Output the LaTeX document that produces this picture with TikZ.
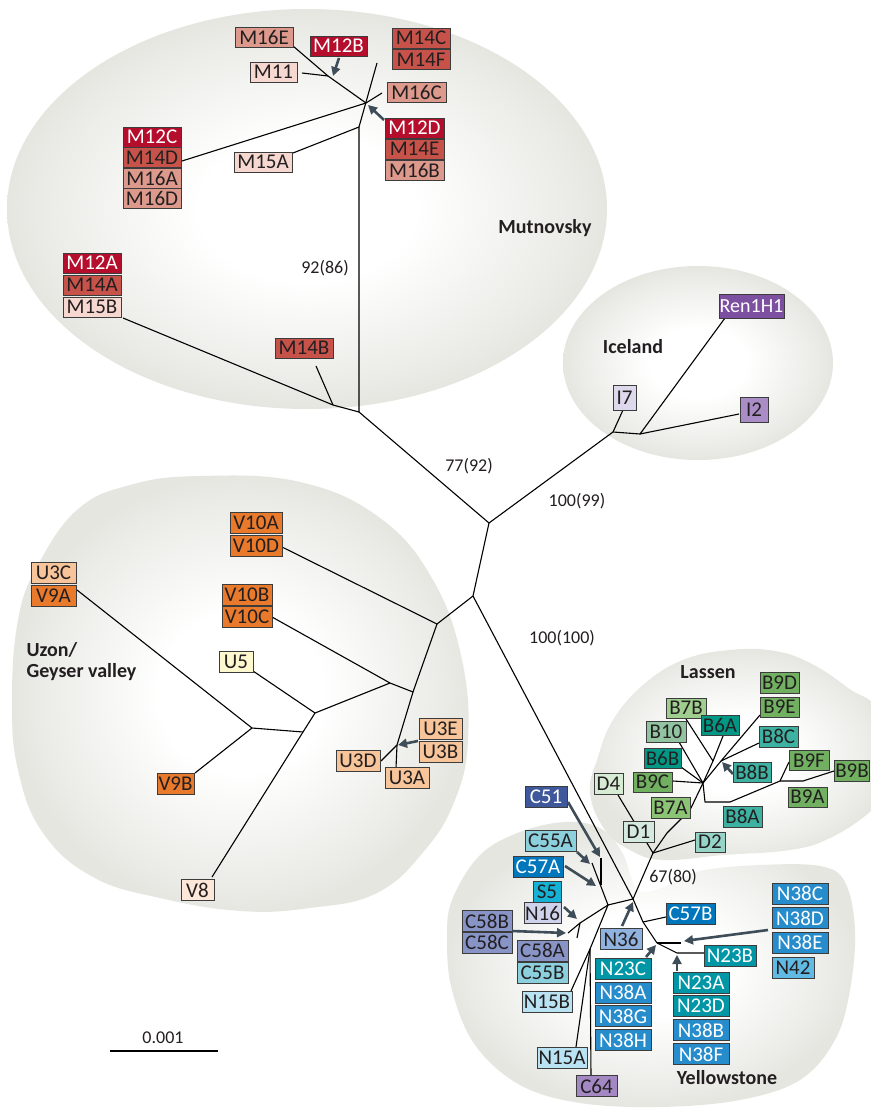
\documentclass[tikz,border=0pt]{standalone}
\usepackage{fontspec}
\setmainfont{Carlito}
\usetikzlibrary{arrows.meta}
\definecolor{txt}{RGB}{35,31,32}
\definecolor{boxline}{RGB}{60,60,60}
\definecolor{arrcol}{RGB}{62,77,88}
\definecolor{bgray}{RGB}{230,230,225}
\definecolor{fm12}{RGB}{181,14,44}
\definecolor{fm14}{RGB}{198,82,74}
\definecolor{fm16}{RGB}{221,153,139}
\definecolor{fm15}{RGB}{247,216,208}
\definecolor{fren}{RGB}{124,79,160}
\definecolor{fi2}{RGB}{170,141,198}
\definecolor{fi7}{RGB}{221,216,235}
\definecolor{fvo}{RGB}{233,122,44}
\definecolor{fup}{RGB}{248,196,153}
\definecolor{fu5}{RGB}{254,248,206}
\definecolor{fv8}{RGB}{252,231,216}
\definecolor{fb9}{RGB}{112,176,96}
\definecolor{fb7b}{RGB}{160,206,142}
\definecolor{fb10}{RGB}{146,196,162}
\definecolor{fb6}{RGB}{0,152,132}
\definecolor{fb8}{RGB}{62,178,162}
\definecolor{fb7a}{RGB}{140,196,118}
\definecolor{fd4}{RGB}{214,236,212}
\definecolor{fd1}{RGB}{213,234,222}
\definecolor{fd2}{RGB}{150,212,200}
\definecolor{fc51}{RGB}{62,88,155}
\definecolor{fc55}{RGB}{140,208,222}
\definecolor{fc57}{RGB}{0,118,188}
\definecolor{fs5}{RGB}{22,178,214}
\definecolor{fn16}{RGB}{206,210,234}
\definecolor{fc58}{RGB}{136,148,198}
\definecolor{fn15}{RGB}{185,226,242}
\definecolor{fc64}{RGB}{163,136,196}
\definecolor{fn36}{RGB}{143,178,222}
\definecolor{fn23}{RGB}{0,150,166}
\definecolor{fn38}{RGB}{38,140,204}
\definecolor{fn42}{RGB}{96,186,228}
\pgfdeclareradialshading{blobshade}{\pgfpoint{0bp}{0bp}}{color(0bp)=(white); color(9bp)=(white); color(25bp)=(bgray); color(50bp)=(bgray)}
\begin{document}
\begin{tikzpicture}[x=1pt,y=-1pt,
  bx/.style={draw=boxline, line width=0.9pt, inner sep=0pt, minimum height=20pt, font=\fontsize{21pt}{21pt}\selectfont, text=txt},
  bw/.style={minimum width=#1pt},
  bh/.style={minimum height=#1pt},
  br/.style={draw=black, line width=1.1pt, line join=round},
  arr/.style={draw=arrcol, line width=2.6pt, -{Triangle[length=9pt,width=9pt]}},
  region/.style={font=\bfseries\fontsize{20pt}{21pt}\selectfont, text=txt},
  boot/.style={font=\fontsize{18pt}{20pt}\selectfont, text=txt},
  blob/.style={shading=blobshade},
  sm12/.style={bx, fill=fm12, text=white},
  sm14/.style={bx, fill=fm14},
  sm16/.style={bx, fill=fm16},
  sm15/.style={bx, fill=fm15},
  sren/.style={bx, fill=fren, text=white, font=\fontsize{20pt}{20pt}\selectfont},
  si2/.style={bx, fill=fi2},
  si7/.style={bx, fill=fi7},
  svo/.style={bx, fill=fvo, bh=21},
  sup/.style={bx, fill=fup, bh=21},
  su5/.style={bx, fill=fu5, bh=21},
  sv8/.style={bx, fill=fv8, bh=21},
  sb9/.style={bx, fill=fb9},
  sb7b/.style={bx, fill=fb7b},
  sb10/.style={bx, fill=fb10},
  sb6/.style={bx, fill=fb6},
  sb8/.style={bx, fill=fb8},
  sb7a/.style={bx, fill=fb7a},
  sd4/.style={bx, fill=fd4},
  sd1/.style={bx, fill=fd1},
  sd2/.style={bx, fill=fd2},
  sc51/.style={bx, fill=fc51, text=white, bh=21},
  sc55/.style={bx, fill=fc55, bh=21},
  sc57/.style={bx, fill=fc57, text=white, bh=21},
  ss5/.style={bx, fill=fs5, bh=21},
  sn16/.style={bx, fill=fn16, bh=21},
  sc58/.style={bx, fill=fc58, bh=21},
  sn15/.style={bx, fill=fn15, bh=21},
  sc64/.style={bx, fill=fc64, bh=21},
  sn36/.style={bx, fill=fn36, bh=21},
  sn23/.style={bx, fill=fn23, text=white, bh=21},
  sn38/.style={bx, fill=fn38, text=white, bh=21},
  sn42/.style={bx, fill=fn42, bh=21}
]
\useasboundingbox (0,0) rectangle (870,1108);
\fill[white] (0,0) rectangle (870,1108);

% ---------- background regions ----------
\shade[blob] (307,209) ellipse [x radius=300pt, y radius=200pt];
\shade[blob] (698,363) ellipse [x radius=135pt, y radius=97pt];
\shade[blob] plot[smooth cycle, tension=0.7] coordinates {(200,476) (300,482) (380,518) (433,580) (462,660) (468,740) (455,800) (425,850) (377,893) (310,908) (240,911) (160,898) (93,877) (43,833) (18,770) (12,700) (18,620) (37,567) (77,510) (130,485)};
\shade[blob] plot[smooth cycle, tension=0.7] coordinates {(590,793) (598,757) (613,720) (643,685) (683,660) (730,650) (775,651) (812,664) (848,688) (880,715) (888,790) (870,812) (830,838) (790,850) (723,855) (663,860) (630,850) (605,830)};
\shade[blob] plot[smooth cycle, tension=0.6] coordinates {(452,900) (480,855) (520,832) (565,822) (600,828) (622,852) (638,890) (667,886) (700,871) (760,865) (820,866) (845,882) (855,930) (850,990) (835,1040) (800,1080) (740,1100) (660,1107) (580,1103) (520,1085) (475,1045) (452,990) (447,940)};

% ---------- junction coordinates ----------
% Mutnovsky
\coordinate (mA) at (359,412);
\coordinate (mB) at (333,405);
\coordinate (mC) at (359,127);
\coordinate (mH) at (366,103);
\coordinate (mT) at (377,63);
\coordinate (mJ) at (328,76);
\coordinate (eM15B) at (123,318);
\coordinate (eM14B) at (316,366);
\coordinate (eM15A) at (293,153);
\coordinate (eM12C) at (182,161);
\coordinate (eM16E) at (293,46);
\coordinate (eM11) at (302,73);
\coordinate (eM16C) at (382,93);
% centre
\coordinate (cA) at (489,523);
\coordinate (cB) at (473,596);
% Iceland
\coordinate (iA) at (613,432);
\coordinate (iB) at (640,434);
\coordinate (eI7) at (623,410);
\coordinate (eRen) at (725,318);
\coordinate (eI2) at (739,414);
% Uzon
\coordinate (uA) at (437,624);
\coordinate (uB) at (413,692);
\coordinate (uC) at (390,683);
\coordinate (uD) at (397,745);
\coordinate (uE) at (315,713);
\coordinate (uF) at (303,732);
\coordinate (uG) at (252,728);
\coordinate (eV10D) at (282,547);
\coordinate (eV10C) at (272,617);
\coordinate (eU3A) at (396,768);
\coordinate (eU3D) at (381,761);
\coordinate (eU5) at (253,671);
\coordinate (eV8) at (212,877);
\coordinate (eV9A) at (77,590);
\coordinate (eV9B) at (195,773);
% Lassen
\coordinate (dN) at (653,853);
\coordinate (lA) at (667,833);
\coordinate (lB) at (690,810);
\coordinate (lL) at (703,783);
\coordinate (lC) at (713,761);
\coordinate (lD) at (721,761);
\coordinate (lE) at (705,802);
\coordinate (lF) at (730,802);
\coordinate (lG) at (780,781);
\coordinate (lH) at (803,781);
\coordinate (eD4) at (618,795);
\coordinate (eD2) at (695,840);
\coordinate (eB9E) at (760,715);
\coordinate (eB6A) at (723,736);
\coordinate (eB7B) at (686,719);
\coordinate (eB8C) at (759,743);
\coordinate (eB10) at (679,742);
\coordinate (eB6B) at (681,767);
\coordinate (eB9C) at (673,781);
\coordinate (eB9F) at (789,762);
\coordinate (eB9B) at (834,771);
% Yellowstone
\coordinate (yY) at (633,899);
\coordinate (yC) at (643,922);
\coordinate (yZ) at (657,943);
\coordinate (yZr) at (681,943);
\coordinate (yN) at (677,953);
\coordinate (eN23B) at (704,953);
\coordinate (eC57B) at (666,917);
\coordinate (yL) at (608,905);
\coordinate (yT) at (592,863);
\coordinate (yV1) at (601,885);
\coordinate (yV2) at (601,858);
\coordinate (yM) at (580,923);
\coordinate (yMe) at (568,933);
\coordinate (yMs) at (577,938);
\coordinate (yW) at (590,949);
\coordinate (eN15B) at (571,991);
\coordinate (eN15A) at (576,1047);
\coordinate (eC64) at (591,1076);

% ---------- branches ----------
\draw[br] (eM15B) -- (mB) -- (mA);
\draw[br] (eM14B) -- (mB);
\draw[br] (cA) -- (mA) -- (mC) -- (mT);
\draw[br] (eM15A) -- (mC);
\draw[br] (eM12C) -- (mH) -- (eM16C);
\draw[br] (eM16E) -- (mJ) -- (mH);
\draw[br] (eM11) -- (mJ);

\draw[br] (cA) -- (iA) -- (iB) -- (eRen);
\draw[br] (iA) -- (eI7);
\draw[br] (iB) -- (eI2);
\draw[br] (cA) -- (cB) -- (uA);
\draw[br] (cB) -- (yY) -- (yC) -- (yZ);

\draw[br] (eV10D) -- (uA) -- (uB) -- (uD) -- (eU3A);
\draw[br] (eV10C) -- (uC) -- (uB);
\draw[br] (eU3D) -- (uD);
\draw[br] (uC) -- (uE) -- (uF) -- (eV8);
\draw[br] (eU5) -- (uE);
\draw[br] (uF) -- (uG) -- (eV9A);
\draw[br] (uG) -- (eV9B);

\draw[br] (eD4) -- (dN) -- (eD2);
\draw[br] (yY) -- (dN) -- (lA) -- (lB) -- (lL) -- (lD) -- (eB9E);
\draw[br] (lL) -- (lC) -- (eB6A);
\draw[br] (lC) -- (eB7B);
\draw[br] (lD) -- (eB8C);
\draw[br] (lL) -- (eB10);
\draw[br] (lL) -- (eB6B);
\draw[br] (lL) -- (eB9C);
\draw[br] (lL) -- (lE) -- (lF) -- (lG) -- (eB9F);
\draw[br] (lG) -- (lH) -- (eB9B);

\draw[br] (yC) -- (eC57B);
\draw[br] (yZ) -- (yZr);
\draw[br] (yZ) -- (yN) -- (eN23B);
\draw[br] (yY) -- (yL) -- (yT);
\draw[br] (yV1) -- (yV2);
\draw[br] (yL) -- (yM) -- (yMe);
\draw[br] (yM) -- (yMs);
\draw[br] (yL) -- (yW) -- (eN15B);
\draw[br] (yW) -- (eN15A);
\draw[br] (yW) -- (eC64);

% ---------- Mutnovsky boxes ----------
\node[sm16, bw=58] (M16E) at (264,37) {M16E};
\node[sm12, bw=57] (M12B) at (338.5,46) {M12B};
\node[sm15, bw=47] (M11) at (273.5,72) {M11};
\node[sm14, bw=58] (M14C) at (421,38) {M14C};
\node[sm14, bw=58] (M14F) at (421,59.5) {M14F};
\node[sm16, bw=59] (M16C) at (416.5,92) {M16C};
\node[sm12, bw=59] (M12D) at (414.5,128) {M12D};
\node[sm14, bw=59] (M14E) at (414.5,149) {M14E};
\node[sm16, bw=59] (M16B) at (414.5,170) {M16B};
\node[sm12, bw=58] (M12C) at (152,137) {M12C};
\node[sm14, bw=58] (M14D) at (152,157.5) {M14D};
\node[sm16, bw=58] (M16A) at (152,178) {M16A};
\node[sm16, bw=58] (M16D) at (152,198.5) {M16D};
\node[sm15, bw=58] (M15A) at (263,162) {M15A};
\node[sm12, bw=58] (M12A) at (92,263) {M12A};
\node[sm14, bw=58] (M14A) at (92,285) {M14A};
\node[sm15, bw=58] (M15B) at (92,307) {M15B};
\node[sm14, bw=58] (M14B) at (304,348) {M14B};

% ---------- Iceland boxes ----------
\node[sren, bw=65, bh=24] (Ren1H1) at (751.5,306) {Ren1H1};
\node[si7, bw=23, bh=25] (I7) at (624.5,397.5) {I7};
\node[si2, bw=28, bh=25] (I2) at (754,409.5) {I2};

% ---------- Uzon boxes ----------
\node[svo, bw=52] (V10A) at (256,523) {V10A};
\node[svo, bw=52] (V10D) at (256,545.5) {V10D};
\node[svo, bw=50] (V10B) at (247,594.5) {V10B};
\node[svo, bw=50] (V10C) at (247,617) {V10C};
\node[sup, bw=45] (U3C) at (53.5,573) {U3C};
\node[svo, bw=45] (V9A) at (53.5,595.5) {V9A};
\node[su5, bw=34] (U5) at (236,661.5) {U5};
\node[sup, bw=43] (U3E) at (440.5,729) {U3E};
\node[sup, bw=43] (U3B) at (440.5,752) {U3B};
\node[sup, bw=44] (U3D) at (358,760.5) {U3D};
\node[sup, bw=44] (U3A) at (407,778) {U3A};
\node[svo, bw=37] (V9B) at (175.5,783.5) {V9B};
\node[sv8, bw=33] (V8) at (197.5,890) {V8};

% ---------- Lassen boxes ----------
\node[sb9, bw=39, bh=21] (B9D) at (779.5,682.5) {B9D};
\node[sb9, bw=39] (B9E) at (779.5,707) {B9E};
\node[sb7b, bw=40] (B7B) at (686,708) {B7B};
\node[sb6, bw=38] (B6A) at (720,725.5) {B6A};
\node[sb10, bw=40, bh=21] (B10) at (666,731.5) {B10};
\node[sb8, bw=39, bh=21] (B8C) at (778.5,736.5) {B8C};
\node[sb6, bw=37] (B6B) at (662.5,758.5) {B6B};
\node[sb9, bw=40] (B9F) at (809,760.5) {B9F};
\node[sb9, bw=35, bh=21] (B9B) at (852,770.5) {B9B};
\node[sb8, bw=38] (B8B) at (752,772) {B8B};
\node[sb9, bw=39] (B9C) at (652.5,782) {B9C};
\node[sd4, bw=29, bh=21] (D4) at (608.5,783.5) {D4};
\node[sb9, bw=39] (B9A) at (807.5,797) {B9A};
\node[sb7a, bw=39, bh=21] (B7A) at (670.5,807.5) {B7A};
\node[sb8, bw=39, bh=21] (B8A) at (742.5,816.5) {B8A};
\node[sd1, bw=31, bh=21] (D1) at (638.5,831.5) {D1};
\node[sd2, bw=30] (D2) at (710,842) {D2};

% ---------- Yellowstone boxes ----------
\node[sc51, bw=42] (C51) at (546,797) {C51};
\node[sc55, bw=51] (C55A) at (550.5,841) {C55A};
\node[sc57, bw=50] (C57A) at (538,866.5) {C57A};
\node[ss5, bw=28] (S5) at (547,891.5) {S5};
\node[sn16, bw=37] (N16) at (542.5,913) {N16};
\node[sc58, bw=50] (C58B) at (487,921) {C58B};
\node[sc58, bw=50] (C58C) at (487,942.5) {C58C};
\node[sc58, bw=51] (C58A) at (542.5,950.5) {C58A};
\node[sc55, bw=51] (C55B) at (542.5,972.5) {C55B};
\node[sn15, bw=50] (N15B) at (547,1001.5) {N15B};
\node[sn15, bw=50] (N15A) at (562,1057.5) {N15A};
\node[sc64, bw=41] (C64) at (596.5,1086) {C64};
\node[sn36, bw=42] (N36) at (621,939) {N36};
\node[sc57, bw=49] (C57B) at (690.5,914) {C57B};
\node[sn23, bw=52] (N23B) at (730,956) {N23B};
\node[sn23, bw=56] (N23C) at (623,968.5) {N23C};
\node[sn38, bw=56] (N38A) at (623,992.5) {N38A};
\node[sn38, bw=56] (N38G) at (623,1016) {N38G};
\node[sn38, bw=56] (N38H) at (623,1040) {N38H};
\node[sn23, bw=56] (N23A) at (701,982.5) {N23A};
\node[sn23, bw=56] (N23D) at (701,1006) {N23D};
\node[sn38, bw=56] (N38B) at (701,1030) {N38B};
\node[sn38, bw=56] (N38F) at (701,1054) {N38F};
\node[sn38, bw=56] (N38C) at (800,893.5) {N38C};
\node[sn38, bw=56] (N38D) at (800,918) {N38D};
\node[sn38, bw=56] (N38E) at (800,942.5) {N38E};
\node[sn42, bw=42] (N42) at (793,967.5) {N42};

% ---------- arrows ----------
\coordinate (aM12Bs) at (339,58);  \coordinate (aM12Be) at (333,76);
\coordinate (aM12Ds) at (384,120); \coordinate (aM12De) at (368,105);
\coordinate (aU3s) at (418,741);   \coordinate (aU3e) at (398,745);
\coordinate (aB8Bs) at (733,774);  \coordinate (aB8Be) at (722,762);
\coordinate (aC51s) at (568,802);  \coordinate (aC51e) at (600,857);
\coordinate (aC55s) at (577,852);  \coordinate (aC55e) at (590,864);
\coordinate (aC57s) at (565,866);  \coordinate (aC57e) at (596,886);
\coordinate (aN16s) at (564,907);  \coordinate (aN16e) at (577,919);
\coordinate (aC58s) at (512,931);  \coordinate (aC58e) at (566,933);
\coordinate (aN36s) at (622,926);  \coordinate (aN36e) at (633,902);
\coordinate (aN23Cs) at (646,957); \coordinate (aN23Ce) at (656,945);
\coordinate (aN23As) at (677,971); \coordinate (aN23Ae) at (677,955);
\coordinate (aN38s) at (768,930);  \coordinate (aN38e) at (684,941);
\draw[arr] (aM12Bs) -- (aM12Be);
\draw[arr] (aM12Ds) -- (aM12De);
\draw[arr] (aU3s) -- (aU3e);
\draw[arr] (aB8Bs) -- (aB8Be);
\draw[arr] (aC51s) -- (aC51e);
\draw[arr] (aC55s) -- (aC55e);
\draw[arr] (aC57s) -- (aC57e);
\draw[arr] (aN16s) -- (aN16e);
\draw[arr] (aC58s) -- (aC58e);
\draw[arr] (aN36s) -- (aN36e);
\draw[arr] (aN23Cs) -- (aN23Ce);
\draw[arr] (aN23As) -- (aN23Ae);
\draw[arr] (aN38s) -- (aN38e);

% ---------- labels ----------
\node[boot] (t9286) at (325,268) {92(86)};
\node[boot] (t7792) at (469,466) {77(92)};
\node[boot] (t10099) at (577,501) {100(99)};
\node[boot] (t100100) at (562,638) {100(100)};
\node[boot] (t6780) at (673,877) {67(80)};
\node[region] (lMut) at (545,228) {Mutnovsky};
\node[region] (lIce) at (633,347) {Iceland};
\node[region] (lLas) at (708,672) {Lassen};
\node[region] (lYel) at (727,1078) {Yellowstone};
\node[region, align=left, anchor=west] (lUzon) at (23,662) {Uzon/\\Geyser valley};

% ---------- scale bar ----------
\coordinate (sbL) at (110,1051);
\coordinate (sbR) at (218,1051);
\draw[black, line width=1.1pt] (sbL) -- (sbR);
\node[boot] (tScale) at (163,1038) {0.001};
\end{tikzpicture}
\end{document}
